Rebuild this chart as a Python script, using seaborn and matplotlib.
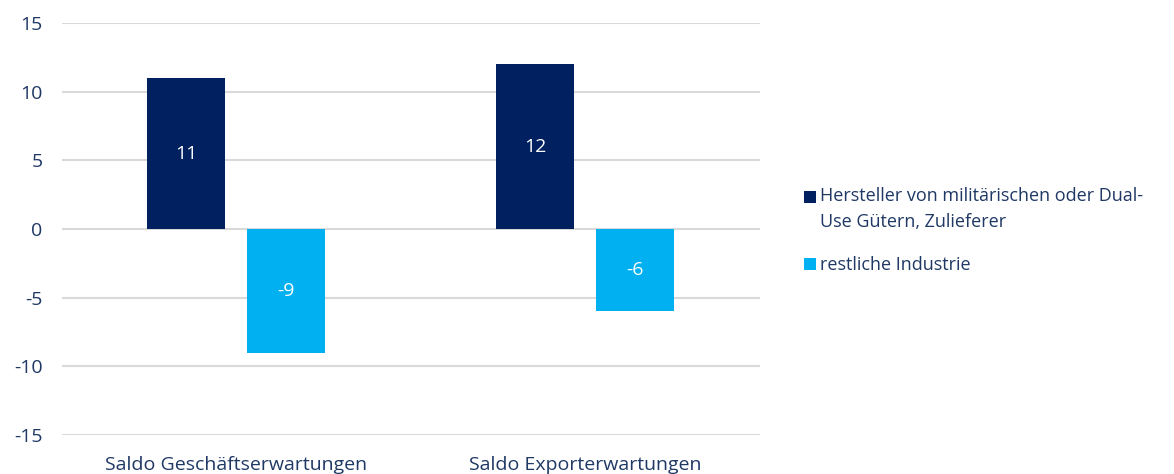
import pandas as pd
import matplotlib
matplotlib.use("Agg")
import matplotlib.pyplot as plt
import seaborn as sns

# Daten
kategorien = ["Saldo Geschäftserwartungen", "Saldo Exporterwartungen"]
gruppen = ["Hersteller von militärischen oder Dual-\nUse Gütern, Zulieferer",
           "restliche Industrie"]
werte_militaer = [11, 12]
werte_rest = [-9, -6]

df = pd.DataFrame({
    "kategorie": kategorien * 2,
    "gruppe": [gruppen[0]] * 2 + [gruppen[1]] * 2,
    "wert": werte_militaer + werte_rest,
})

sns.set_style("white")
plt.rcParams["font.family"] = ["Open Sans", "DejaVu Sans"]
plt.rcParams["axes.unicode_minus"] = False

textfarbe = "#1F3864"
farben = ["#002060", "#00B0F0"]

fig = plt.figure(figsize=(11.74, 4.74), dpi=100)
ax = fig.add_axes([0.0528, 0.0823, 0.5942, 0.8687])

sns.barplot(data=df, x="kategorie", y="wert", hue="gruppe", hue_order=gruppen,
            palette=farben, saturation=1, width=0.573, gap=0.22,
            errorbar=None, ax=ax, edgecolor="none")

# Wertebeschriftungen in den Balken
for cont in ax.containers:
    ax.bar_label(cont, label_type="center", color="white", fontsize=14)

ax.set_ylim(-15, 15)
ax.set_xlim(-0.5, 1.5)
ax.set_yticks(range(-15, 16, 5))
ax.yaxis.grid(True, color="#D9D9D9", linewidth=1.5)
ax.set_axisbelow(True)
for s in ax.spines.values():
    s.set_visible(False)
ax.tick_params(axis="both", length=0, labelsize=14, colors=textfarbe)
ax.tick_params(axis="x", pad=15)
ax.tick_params(axis="y", pad=14)
ax.set_xlabel("")
ax.set_ylabel("")

leg = ax.legend(loc="upper left", bbox_to_anchor=(0.677, 0.624),
                bbox_transform=fig.transFigure, frameon=False, borderpad=0,
                fontsize=13, handlelength=0.65, handleheight=0.65,
                handletextpad=0.25, labelspacing=1.4, labelcolor=textfarbe)
for t in leg.get_texts():
    t.set_linespacing(1.55)
# Quadrat auf die erste Textzeile setzen
h0 = leg.legend_handles[0]
h0.set_y(h0.get_y() + 9.5)

fig.savefig("out.png", dpi=100)
